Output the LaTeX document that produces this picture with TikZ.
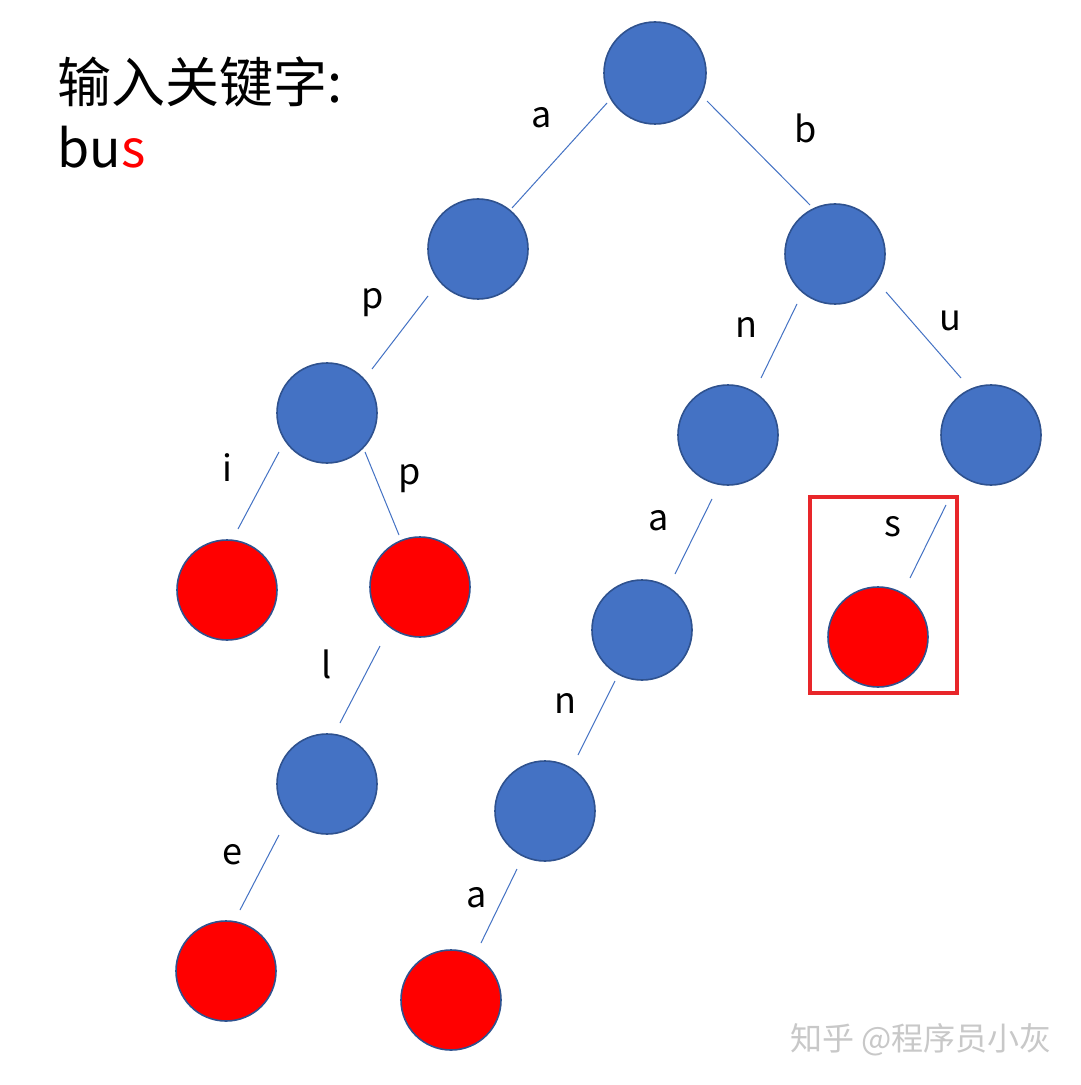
\documentclass[tikz,border=0pt]{standalone}
\usepackage{fontspec}
\usetikzlibrary{calc}
\setmainfont{Noto Sans CJK SC}
\definecolor{nodeblue}{HTML}{4472C4}
\definecolor{nodeedge}{HTML}{2F528F}
\definecolor{leafred}{HTML}{FF0000}
\definecolor{boxred}{HTML}{E8262A}
\definecolor{wmgray}{HTML}{C8C8C8}
\begin{document}
\begin{tikzpicture}[x=0.5pt,y=-0.5pt,
  inner/.style={circle,draw=nodeedge,fill=nodeblue,line width=0.8pt,minimum size=50pt,inner sep=0pt},
  leaf/.style={circle,draw=nodeedge,fill=leafred,line width=0.8pt,minimum size=50pt,inner sep=0pt},
  edge/.style={draw=nodeblue,line width=0.5pt},
  lbl/.style={font=\fontsize{18pt}{20pt}\selectfont,inner sep=0pt}]
\useasboundingbox (0,0) rectangle (1080,1085);
\fill[white] (0,0) rectangle (1080,1085);
% title
\node[anchor=base west,inner sep=0pt,font=\fontsize{27pt}{30pt}\selectfont] (title) at (57,103) {输入关键字:};
\node[anchor=base west,inner sep=0pt,font=\fontsize{26pt}{30pt}\selectfont] (key) at (57,168) {bu\textcolor{leafred}{s}};
% nodes
\node[inner,minimum size=51pt] (root) at (655,73) {};
\node[inner] (A) at (478,249) {};
\node[inner] (B) at (835,254) {};
\node[inner] (P1) at (327,413) {};
\node[inner] (BN) at (728,435) {};
\node[inner] (BU) at (991,435) {};
\node[leaf] (I) at (227,590) {};
\node[leaf] (PP) at (420,587) {};
\node[inner] (BNA) at (642,630) {};
\node[leaf] (S) at (878,637) {};
\node[inner] (L) at (327,784) {};
\node[inner] (BNAN) at (545,811) {};
\node[leaf] (E) at (226,971) {};
\node[leaf] (BNANA) at (451,1000) {};
% highlight box
\node[draw=boxred,line width=2pt,minimum width=73.5pt,minimum height=98pt,inner sep=0pt] (hbox) at (883.5,595) {};
% edges (free-floating segments, placed relative to the nodes)
\draw[edge] ($(root)+(-48,30)$) -- ($(A)+(34,-41)$);
\draw[edge] ($(root)+(52,28)$) -- ($(B)+(-25,-49)$);
\draw[edge] ($(A)+(-50,47)$) -- ($(P1)+(45,-44)$);
\draw[edge] ($(B)+(-38,50)$) -- ($(BN)+(33,-57)$);
\draw[edge] ($(B)+(51,38)$) -- ($(BU)+(-30,-57)$);
\draw[edge] ($(P1)+(-48,39)$) -- ($(I)+(11,-61)$);
\draw[edge] ($(P1)+(38,39)$) -- ($(PP)+(-21,-52)$);
\draw[edge] ($(PP)+(-40,59)$) -- ($(L)+(13,-61)$);
\draw[edge] ($(L)+(-48,51)$) -- ($(E)+(14,-61)$);
\draw[edge] ($(BN)+(-16,64)$) -- ($(BNA)+(33,-56)$);
\draw[edge] ($(BNA)+(-27,51)$) -- ($(BNAN)+(33,-56)$);
\draw[edge] ($(BNAN)+(-28,58)$) -- ($(BNANA)+(30,-57)$);
\draw[edge] ($(BU)+(-45,70)$) -- ($(S)+(32,-59)$);
% edge labels
\node[lbl] (la) at (542,118) {a};
\node[lbl] (lb) at (806,128) {b};
\node[lbl] (lp1) at (373,303) {p};
\node[lbl] (ln1) at (746,327) {n};
\node[lbl] (lu) at (950,321) {u};
\node[lbl] (li) at (227,468) {i};
\node[lbl] (lp2) at (410,479) {p};
\node[lbl] (ll) at (327,664) {l};
\node[lbl] (la2) at (659,521) {a};
\node[lbl] (ls) at (893,527) {s};
\node[lbl] (ln2) at (565,703) {n};
\node[lbl] (le) at (232,855) {e};
\node[lbl] (la3) at (477,898) {a};
% watermark
\node[anchor=center,inner sep=0pt,text=wmgray,font=\fontsize{16pt}{18pt}\selectfont] (wm) at (921,1040) {知乎 @程序员小灰};
\end{tikzpicture}
\end{document}
